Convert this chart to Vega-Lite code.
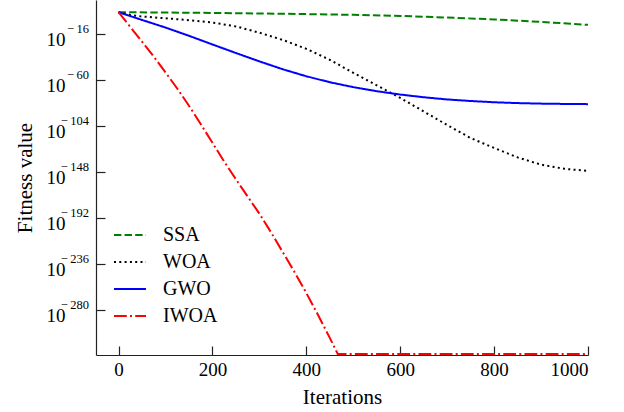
{
  "$schema": "https://vega.github.io/schema/vega-lite/v6.json",
  "width": 492,
  "height": 355,
  "autosize": "none",
  "padding": {"left": 96, "top": 0, "right": 36, "bottom": 57},
  "background": "white",
  "config": {
    "view": {"stroke": null},
    "font": "Liberation Serif",
    "axis": {
      "grid": false,
      "domainColor": "#222222",
      "domainWidth": 1.2,
      "tickColor": "#222222",
      "tickWidth": 1.2,
      "tickSize": -9,
      "labelColor": "black",
      "labelFont": "Liberation Serif",
      "labelFontSize": 19,
      "titleFont": "Liberation Serif",
      "titleFontSize": 21,
      "titleFontWeight": "normal",
      "titleColor": "black"
    }
  },
  "datasets": {
    "series": [
      {"alg": "SSA", "iter": 0, "log10_fitness": 5.1},
      {"alg": "SSA", "iter": 100, "log10_fitness": 4.8},
      {"alg": "SSA", "iter": 200, "log10_fitness": 4.4},
      {"alg": "SSA", "iter": 300, "log10_fitness": 3.9},
      {"alg": "SSA", "iter": 400, "log10_fitness": 3.3},
      {"alg": "SSA", "iter": 500, "log10_fitness": 2.6},
      {"alg": "SSA", "iter": 600, "log10_fitness": 1.5},
      {"alg": "SSA", "iter": 700, "log10_fitness": 0.0},
      {"alg": "SSA", "iter": 800, "log10_fitness": -1.8},
      {"alg": "SSA", "iter": 900, "log10_fitness": -4.2},
      {"alg": "SSA", "iter": 1000, "log10_fitness": -7.0},

      {"alg": "WOA", "iter": 0, "log10_fitness": 5.1},
      {"alg": "WOA", "iter": 25, "log10_fitness": 2.5},
      {"alg": "WOA", "iter": 50, "log10_fitness": 1.0},
      {"alg": "WOA", "iter": 100, "log10_fitness": -0.7},
      {"alg": "WOA", "iter": 150, "log10_fitness": -2.5},
      {"alg": "WOA", "iter": 200, "log10_fitness": -4.8},
      {"alg": "WOA", "iter": 250, "log10_fitness": -8.5},
      {"alg": "WOA", "iter": 300, "log10_fitness": -14.5},
      {"alg": "WOA", "iter": 350, "log10_fitness": -21.5},
      {"alg": "WOA", "iter": 400, "log10_fitness": -30.0},
      {"alg": "WOA", "iter": 450, "log10_fitness": -40.5},
      {"alg": "WOA", "iter": 500, "log10_fitness": -53.0},
      {"alg": "WOA", "iter": 550, "log10_fitness": -65.0},
      {"alg": "WOA", "iter": 600, "log10_fitness": -77.0},
      {"alg": "WOA", "iter": 650, "log10_fitness": -90.0},
      {"alg": "WOA", "iter": 700, "log10_fitness": -103.0},
      {"alg": "WOA", "iter": 750, "log10_fitness": -115.5},
      {"alg": "WOA", "iter": 800, "log10_fitness": -125.0},
      {"alg": "WOA", "iter": 850, "log10_fitness": -134.0},
      {"alg": "WOA", "iter": 900, "log10_fitness": -141.0},
      {"alg": "WOA", "iter": 950, "log10_fitness": -145.0},
      {"alg": "WOA", "iter": 1000, "log10_fitness": -147.0},

      {"alg": "GWO", "iter": 0, "log10_fitness": 5.1},
      {"alg": "GWO", "iter": 50, "log10_fitness": -2.3},
      {"alg": "GWO", "iter": 100, "log10_fitness": -9.6},
      {"alg": "GWO", "iter": 150, "log10_fitness": -17.5},
      {"alg": "GWO", "iter": 200, "log10_fitness": -25.8},
      {"alg": "GWO", "iter": 250, "log10_fitness": -34.0},
      {"alg": "GWO", "iter": 300, "log10_fitness": -42.0},
      {"alg": "GWO", "iter": 350, "log10_fitness": -49.6},
      {"alg": "GWO", "iter": 400, "log10_fitness": -56.3},
      {"alg": "GWO", "iter": 450, "log10_fitness": -62.0},
      {"alg": "GWO", "iter": 500, "log10_fitness": -66.7},
      {"alg": "GWO", "iter": 550, "log10_fitness": -70.6},
      {"alg": "GWO", "iter": 600, "log10_fitness": -73.8},
      {"alg": "GWO", "iter": 650, "log10_fitness": -76.4},
      {"alg": "GWO", "iter": 700, "log10_fitness": -78.5},
      {"alg": "GWO", "iter": 750, "log10_fitness": -80.0},
      {"alg": "GWO", "iter": 800, "log10_fitness": -81.2},
      {"alg": "GWO", "iter": 850, "log10_fitness": -82.0},
      {"alg": "GWO", "iter": 900, "log10_fitness": -82.5},
      {"alg": "GWO", "iter": 950, "log10_fitness": -82.8},
      {"alg": "GWO", "iter": 1000, "log10_fitness": -83.0},

      {"alg": "IWOA", "iter": 0, "log10_fitness": 5.1},
      {"alg": "IWOA", "iter": 25, "log10_fitness": -9.0},
      {"alg": "IWOA", "iter": 50, "log10_fitness": -23.0},
      {"alg": "IWOA", "iter": 75, "log10_fitness": -37.5},
      {"alg": "IWOA", "iter": 100, "log10_fitness": -52.5},
      {"alg": "IWOA", "iter": 125, "log10_fitness": -68.0},
      {"alg": "IWOA", "iter": 150, "log10_fitness": -84.5},
      {"alg": "IWOA", "iter": 175, "log10_fitness": -102.0},
      {"alg": "IWOA", "iter": 200, "log10_fitness": -120.0},
      {"alg": "IWOA", "iter": 225, "log10_fitness": -138.0},
      {"alg": "IWOA", "iter": 250, "log10_fitness": -155.0},
      {"alg": "IWOA", "iter": 275, "log10_fitness": -171.5},
      {"alg": "IWOA", "iter": 300, "log10_fitness": -188.0},
      {"alg": "IWOA", "iter": 325, "log10_fitness": -206.0},
      {"alg": "IWOA", "iter": 350, "log10_fitness": -225.0},
      {"alg": "IWOA", "iter": 375, "log10_fitness": -244.0},
      {"alg": "IWOA", "iter": 400, "log10_fitness": -264.0},
      {"alg": "IWOA", "iter": 425, "log10_fitness": -285.0},
      {"alg": "IWOA", "iter": 450, "log10_fitness": -307.0},
      {"alg": "IWOA", "iter": 467, "log10_fitness": -322.5},
      {"alg": "IWOA", "iter": 600, "log10_fitness": -322.5},
      {"alg": "IWOA", "iter": 800, "log10_fitness": -322.5},
      {"alg": "IWOA", "iter": 1000, "log10_fitness": -322.5}
    ],
    "expo": [
      {"e": -16, "lab": "−\u200916"},
      {"e": -60, "lab": "−\u200960"},
      {"e": -104, "lab": "−\u2009104"},
      {"e": -148, "lab": "−\u2009148"},
      {"e": -192, "lab": "−\u2009192"},
      {"e": -236, "lab": "−\u2009236"},
      {"e": -280, "lab": "−\u2009280"}
    ]
  },
  "layer": [
    {
      "data": {"name": "series"},
      "mark": {"type": "line", "strokeWidth": 2, "clip": true},
      "encoding": {
        "x": {
          "field": "iter",
          "type": "quantitative",
          "scale": {"domain": [-48, 1000], "nice": false, "zero": false},
          "axis": {
            "title": "Iterations",
            "values": [0, 200, 400, 600, 800, 1000],
            "format": "d",
            "labelPadding": 14,
            "titlePadding": 7
          }
        },
        "y": {
          "field": "log10_fitness",
          "type": "quantitative",
          "scale": {"domain": [-323.4, 16.8], "nice": false, "zero": false},
          "axis": {
            "title": "Fitness value",
            "values": [-16, -60, -104, -148, -192, -236, -280],
            "labelExpr": "abs(datum.value) >= 100 ? '10\u2004' : '10'",
            "labelFontSize": 19,
            "labelBaseline": "alphabetic",
            "labelOffset": 11.5,
            "labelPadding": 40,
            "titlePadding": 11
          }
        },
        "color": {
          "field": "alg",
          "type": "nominal",
          "scale": {"domain": ["SSA", "WOA", "GWO", "IWOA"], "range": ["#008000", "#000000", "#0000ff", "#ff0000"]},
          "legend": {
            "title": null,
            "orient": "none",
            "legendX": 17,
            "legendY": 218,
            "symbolType": "stroke",
            "symbolSize": 1024,
            "symbolStrokeWidth": 2,
            "labelFont": "Liberation Serif",
            "labelFontSize": 20,
            "labelColor": "black",
            "labelOffset": 16,
            "rowPadding": -2
          }
        },
        "strokeDash": {
          "field": "alg",
          "type": "nominal",
          "scale": {"domain": ["SSA", "WOA", "GWO", "IWOA"], "range": [[7.4, 3.2], [2, 3.3], [1, 0], [12.8, 3.2, 2, 3.2]]},
          "legend": {
            "title": null,
            "orient": "none",
            "legendX": 17,
            "legendY": 218,
            "symbolType": "stroke",
            "symbolSize": 1024,
            "symbolStrokeWidth": 2,
            "labelFont": "Liberation Serif",
            "labelFontSize": 20,
            "labelColor": "black",
            "labelOffset": 16,
            "rowPadding": -2
          }
        }
      }
    },
    {
      "data": {"name": "expo"},
      "mark": {"type": "text", "align": "right", "baseline": "alphabetic", "dx": -7, "dy": -1, "fontSize": 12.5, "font": "Liberation Serif", "color": "black"},
      "encoding": {
        "x": {"datum": -48},
        "y": {"field": "e", "type": "quantitative"},
        "text": {"field": "lab"}
      }
    }
  ]
}
